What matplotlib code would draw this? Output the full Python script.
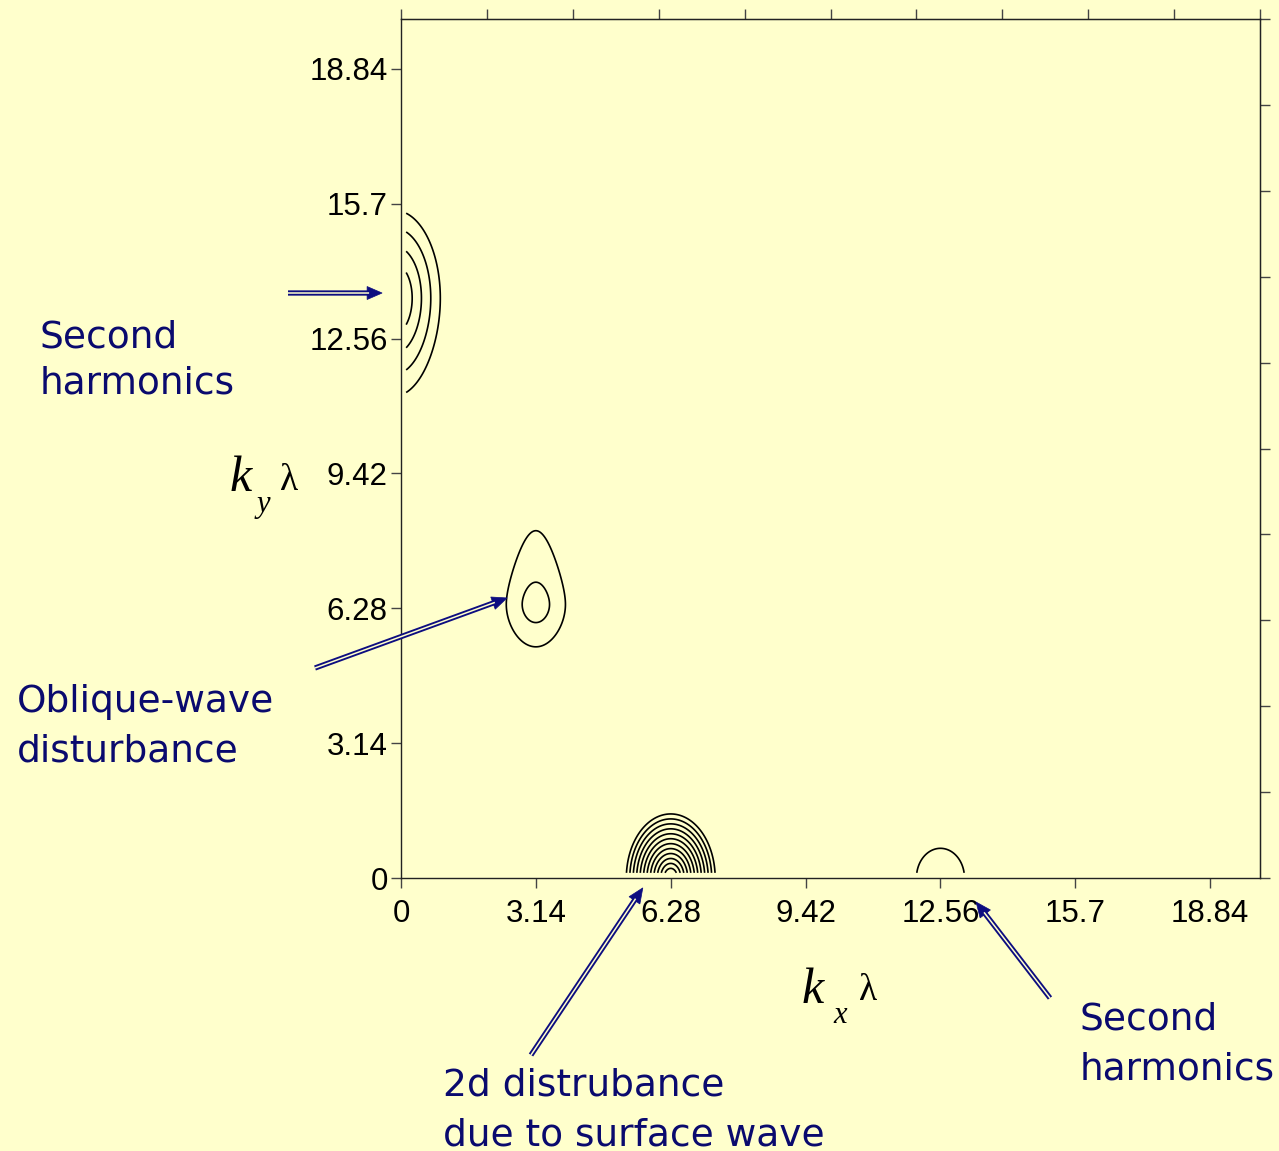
import numpy as np
import matplotlib
matplotlib.use("Agg")
import matplotlib.pyplot as plt
from matplotlib.lines import Line2D
from matplotlib.patches import Polygon

W, H = 1279, 1151
BG = "#FFFFCC"
NAVY_TEXT = "#0A0A6E"
NAVY_ARROW = "#0D0D80"

# axis ticks (labelled multiples of pi, plus unlabelled ticks on top/right)
tick_values = [0, 3.14, 6.28, 9.42, 12.56, 15.7, 18.84]
tick_labels = ["0", "3.14", "6.28", "9.42", "12.56", "15.7", "18.84"]
minor_ticks = list(range(0, 21, 2))

# spectral peaks: centre, amplitude and decay widths (up / down may differ)
peak_kx = [6.28, 3.14, -0.15, 12.56]
peak_ky = [0.00, 6.37, 13.50, 0.00]
peak_amp = [7900.0, 3.63, 30.0, 1.6]
peak_wx = [0.115, 0.534, 0.31, 1.19]
peak_wy_down = [0.166, 0.667, 0.60, 1.47]
peak_wy_up = [0.166, 0.667, 0.60, 1.47]
peak_stretch_up = [0.0, 0.58, 0.0, 0.0]
peak_stretch_down = [0.0, 0.15, 0.05, 0.0]

# logarithmic contour levels
contour_levels = [1, 2, 4, 8, 16, 32, 64, 128, 256, 512, 1024, 2048, 4096]

kx = np.arange(0.12, 20.0, 0.01)
ky = np.arange(0.12, 20.0, 0.01)
KX, KY = np.meshgrid(kx, ky)
F = np.zeros_like(KX)
for x0, y0, a, wx, wyd, wyu, su, sd in zip(peak_kx, peak_ky, peak_amp, peak_wx,
                                           peak_wy_down, peak_wy_up,
                                           peak_stretch_up, peak_stretch_down):
    dx = (KX - x0) / wx
    dy = KY - y0
    wy = np.where(dy >= 0, wyu * (1 + su * dy), wyd * (1 + sd * np.abs(dy)))
    rho = np.sqrt(dx ** 2 + (dy / wy) ** 2)
    F += a * np.exp(-rho)

fig = plt.figure(figsize=(W / 100, H / 100), dpi=100, facecolor=BG)
ax = fig.add_axes([401 / W, 1 - 878 / H, (1260 - 401) / W, (878 - 19) / H])
ax.set_facecolor(BG)

ax.contour(KX, KY, F, levels=contour_levels, colors="black", linewidths=1.2)

ax.set_xlim(0, 20)
ax.set_ylim(0, 20)
ax.set_xticks(tick_values)
ax.set_xticklabels(tick_labels)
ax.set_yticks(tick_values)
ax.set_yticklabels(tick_labels)
ax.tick_params(direction="out", length=7, width=1, color="#444444",
               labelsize=22.5, pad=2.5)
ax.tick_params(axis="x", pad=8)
for lab in ax.get_xticklabels() + ax.get_yticklabels():
    lab.set_family("Liberation Sans")
for sp in ax.spines.values():
    sp.set_linewidth(1.0)
    sp.set_color("#222222")

top = ax.secondary_xaxis("top")
top.set_xticks(minor_ticks)
top.set_xticklabels([])
top.tick_params(direction="out", length=7, width=1, color="#444444")
right = ax.secondary_yaxis("right")
right.set_yticks(minor_ticks)
right.set_yticklabels([])
right.tick_params(direction="out", length=7, width=1, color="#444444")


def fpos(x, y):
    return x / W, 1 - y / H


# axis labels  k_y lambda / k_x lambda
serif = "Liberation Serif"
fig.text(*fpos(230, 491), "k", family=serif, style="italic", fontsize=36,
         ha="left", va="baseline")
fig.text(*fpos(257, 512), "y", family=serif, style="italic", fontsize=22,
         ha="left", va="baseline")
fig.text(*fpos(280, 490), "λ", family=serif, fontsize=27,
         ha="left", va="baseline")
fig.text(*fpos(802, 1003), "k", family=serif, style="italic", fontsize=36,
         ha="left", va="baseline")
fig.text(*fpos(833, 1023), "x", family=serif, style="italic", fontsize=22,
         ha="left", va="baseline")
fig.text(*fpos(859, 1000), "λ", family=serif, fontsize=27,
         ha="left", va="baseline")

# annotation text
notes = [
    ("Second", 40, 347), ("harmonics", 40, 393),
    ("Oblique-wave", 17, 712), ("disturbance", 17, 761),
    ("2d distrubance", 443, 1096), ("due to surface wave", 443, 1145),
    ("Second", 1080, 1030), ("harmonics", 1080, 1080),
]
for s, x, y in notes:
    fig.text(*fpos(x, y), s, family="DejaVu Sans", fontsize=27,
             color=NAVY_TEXT, ha="left", va="baseline")

# double-shafted arrows: tip in data coordinates, tail in figure pixels
arrow_tips = [(-0.44, 13.62), (2.47, 6.52), (5.63, -0.23), (13.39, -0.56)]
arrow_tails = [(288, 293), (315, 668), (531, 1055), (1050, 998)]
head_len, head_half = 15.0, 6.5
for (tx, ty), (sx, sy) in zip(arrow_tips, arrow_tails):
    tail = np.array([sx, H - sy], dtype=float)
    tip = np.array(ax.transData.transform((tx, ty)), dtype=float)
    vec = tip - tail
    dist = np.hypot(*vec)
    u = vec / dist
    n = np.array([-u[1], u[0]])
    base = tip - u * head_len
    shaft_end = tip - u * (head_len - 2)
    for lw, col in ((3.8, NAVY_ARROW), (1.1, BG)):
        fig.add_artist(Line2D([tail[0] / W, shaft_end[0] / W],
                              [tail[1] / H, shaft_end[1] / H],
                              transform=fig.transFigure, color=col, lw=lw,
                              solid_capstyle="butt"))
    head = np.array([tip, base + n * head_half, base - n * head_half])
    fig.add_artist(Polygon(head / [W, H], closed=True, transform=fig.transFigure,
                           facecolor=NAVY_ARROW, edgecolor=NAVY_ARROW, lw=0.5))

fig.savefig("out.png", dpi=100, facecolor=BG)
